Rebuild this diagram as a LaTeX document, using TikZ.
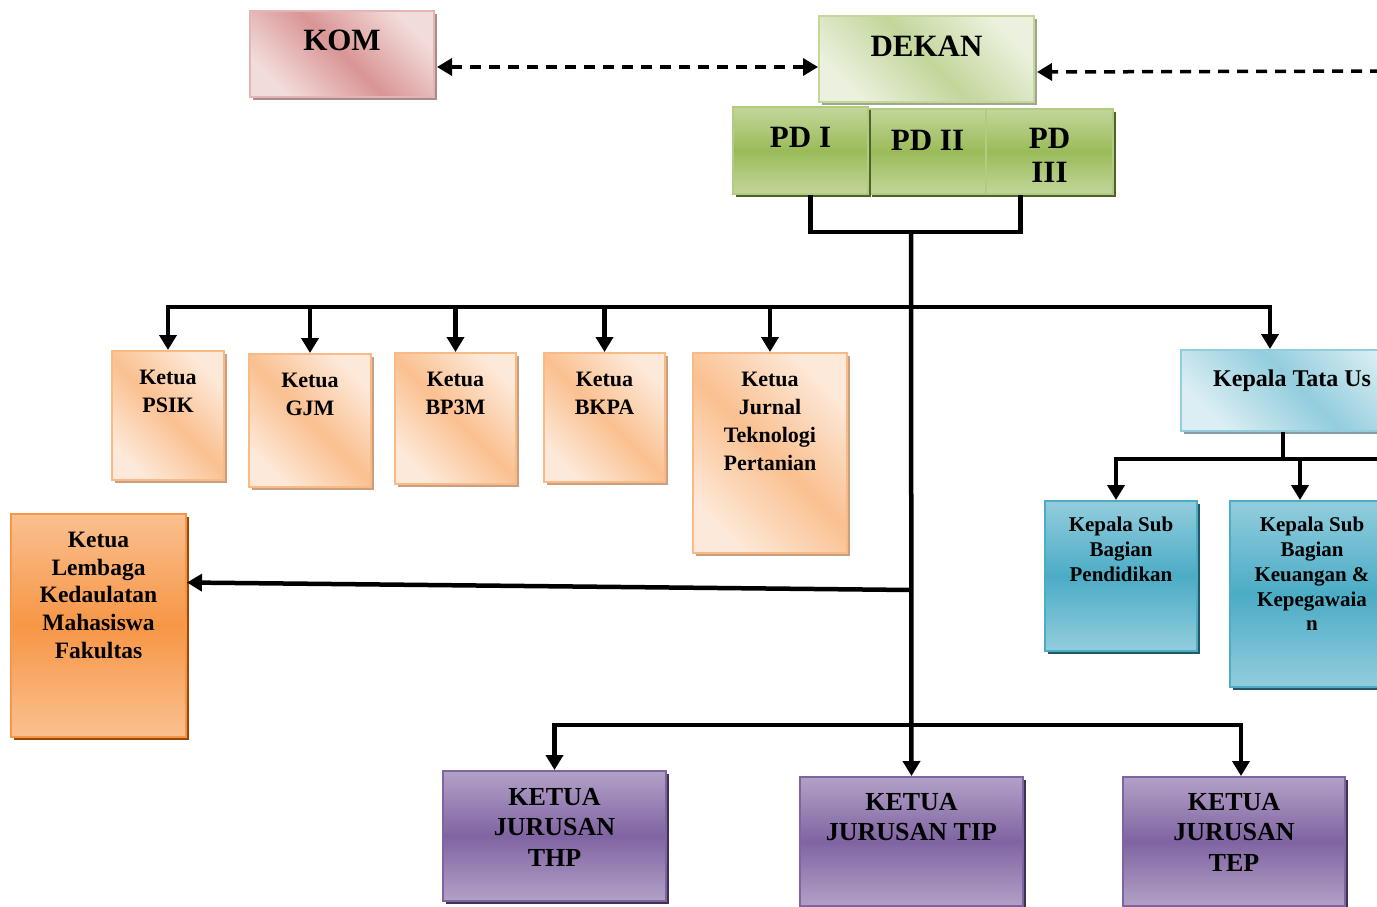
\documentclass[tikz,border=0pt]{standalone}
\usepackage{fontspec}
\setmainfont{Liberation Serif}
\usetikzlibrary{arrows.meta,positioning,shadows}

\definecolor{pinkD}{HTML}{D99594}
\definecolor{pinkL}{HTML}{F2DCDB}
\definecolor{oliveL}{HTML}{EBF1DE}
\definecolor{oliveM}{HTML}{C3D69B}
\definecolor{oliveD}{HTML}{9BBB59}
\definecolor{oliveS}{HTML}{4F6228}
\definecolor{peachL}{HTML}{FDE9D9}
\definecolor{peachM}{HTML}{FAC090}
\definecolor{peachD}{HTML}{F79646}
\definecolor{peachS}{HTML}{984807}
\definecolor{peachG}{HTML}{C8A080}
\definecolor{aquaL}{HTML}{DAEEF3}
\definecolor{aquaM}{HTML}{93CDDD}
\definecolor{aquaD}{HTML}{4BACC6}
\definecolor{aquaS}{HTML}{215968}
\definecolor{lilacM}{HTML}{B2A1C7}
\definecolor{lilacD}{HTML}{8064A2}
\definecolor{lilacS}{HTML}{3F3151}

\tikzset{
  unit/.style={anchor=north west, inner sep=0pt, line width=2pt},
  castshadow/.style={drop shadow={shadow xshift=3pt, shadow yshift=-3pt, fill=#1, opacity=1}},
  diag/.style 2 args={left color=#1, right color=#1, middle color=#2, shading angle=135},
  vert/.style 2 args={top color=#1, bottom color=#1, middle color=#2},
  kombox/.style={unit, draw=pinkD!70, diag={pinkL}{pinkD}, castshadow=pinkD!50!gray},
  dekanbox/.style={unit, draw=oliveM, diag={oliveL}{oliveM}, castshadow=oliveM!45!gray},
  pdbox/.style={unit, draw=oliveM!60!oliveD, vert={oliveM}{oliveD}, castshadow=oliveS},
  peachbox/.style={unit, draw=peachM!85!peachD, diag={peachL}{peachM}, castshadow=peachG},
  lkmbox/.style={unit, draw=peachD, vert={peachM}{peachD}, castshadow=peachS},
  tubox/.style={unit, draw=aquaM, diag={aquaL}{aquaM}, castshadow=aquaM!40!gray},
  subbox/.style={unit, draw=aquaD, vert={aquaM}{aquaD}, castshadow=aquaS},
  lilacbox/.style={unit, draw=lilacD, vert={lilacM}{lilacD}, castshadow=lilacS},
  lbl/.style={anchor=north, inner sep=0pt, align=center},
  headtxt/.style={font=\fontsize{31}{34}\selectfont\bfseries},
  ketuatxt/.style={font=\fontsize{22}{28}\selectfont\bfseries},
  lkmtxt/.style={font=\fontsize{23.5}{27.7}\selectfont\bfseries},
  subtxt/.style={font=\fontsize{21}{24.8}\selectfont\bfseries},
  jurtxt/.style={font=\fontsize{26}{30.5}\selectfont\bfseries},
  conn/.style={line width=4.5pt},
  arr/.style={line width=4.5pt, -{Triangle[width=17pt,length=15pt]}},
  linkdash/.style={line width=3.5pt, dash pattern=on 11pt off 8pt},
}

\begin{document}
\begin{tikzpicture}[x=1pt, y=-1pt]
\useasboundingbox (0,0) rectangle (1377,907);
\clip (0,0) rectangle (1377,907);
\path
(911,232) coordinate (jpd)
(911,307) coordinate (jk)
(911,590) coordinate (jl)
(913,725) coordinate (jj)
(1283,459) coordinate (jt)
(1400,459) coordinate (jtr)
(1400,71) coordinate (dr)
;
% pimpinan
\node[kombox, minimum width=184pt, minimum height=86pt] (kom) at (249,10) {};
\node[lbl, headtxt, below=20pt of kom.north] (komt) {KOM};
\node[dekanbox, minimum width=215pt, minimum height=86pt] (dekan) at (818,15) {};
\node[lbl, headtxt, below=21pt of dekan.north] (dekant) {DEKAN};
\node[pdbox, minimum width=117pt, minimum height=85pt] (pd2) at (868,108) {};
\node[pdbox, minimum width=127pt, minimum height=85pt] (pd3) at (985,108) {};
\node[pdbox, minimum width=135pt, minimum height=87pt] (pd1) at (732,106) {};
\node[lbl, headtxt, below=21pt of pd1.north] (pd1t) {PD I};
\node[lbl, headtxt, below=22pt of pd2.north] (pd2t) {PD II};
\node[lbl, headtxt, below=20pt of pd3.north] (pd3t) {PD\\III};
% ketua unit
\foreach \n/\x/\y/\w/\hh/\txt in {psik/111/350/112/129/{Ketua\\PSIK},
  gjm/248/353/122/133/{Ketua\\GJM}, bp/394/352/121/131/{Ketua\\BP3M},
  bkpa/543/352/121/129/{Ketua\\BKPA},
  jtp/692/352/154/200/{Ketua\\Jurnal\\Teknologi\\Pertanian}}{
  \node[peachbox, minimum width=\w pt, minimum height=\hh pt] (\n) at (\x,\y) {};
  \node[lbl, ketuatxt, below=20pt of \n.north] (\n t) {\txt};
}
\node[lkmbox, minimum width=175pt, minimum height=223pt] (lkm) at (10,513) {};
\node[lbl, lkmtxt, below=19pt of lkm.north] (lkmt) {Ketua\\Lembaga\\Kedaulatan\\Mahasiswa\\Fakultas};
% tata usaha
\node[tubox, minimum width=240pt, minimum height=81pt] (tu) at (1180,349) {};
\node[anchor=north west, inner sep=0pt, font=\fontsize{24}{28}\selectfont\bfseries] (tut) at ([xshift=33pt, yshift=-21pt]tu.north west) {Kepala Tata Us};
\node[subbox, minimum width=152pt, minimum height=150pt] (sp) at (1044,500) {};
\node[lbl, subtxt, below=17pt of sp.north] (spt) {Kepala Sub\\Bagian\\Pendidikan};
\node[subbox, minimum width=164pt, minimum height=186pt] (sk) at (1229,500) {};
\node[lbl, subtxt, below=17pt of sk.north] (skt) {Kepala Sub\\Bagian\\Keuangan \&\\Kepegawaia\\n};
% jurusan
\node[lilacbox, minimum width=223pt, minimum height=130pt] (thp) at (442,770) {};
\node[lbl, jurtxt, below=18pt of thp.north] (thpt) {KETUA\\JURUSAN\\THP};
\node[lilacbox, minimum width=223pt, minimum height=129pt] (tip) at (799,776) {};
\node[lbl, jurtxt, below=17pt of tip.north] (tipt) {KETUA\\JURUSAN TIP};
\node[lilacbox, minimum width=222pt, minimum height=129pt] (tep) at (1122,776) {};
\node[lbl, jurtxt, below=17pt of tep.north] (tept) {KETUA\\JURUSAN\\TEP};
% garis
\draw[linkdash, {Triangle[width=17pt,length=15pt]}-{Triangle[width=17pt,length=15pt]}]
  ([xshift=2pt, yshift=-13pt]kom.east) -- ([yshift=-8pt]dekan.west);
\draw[linkdash, -{Triangle[width=17pt,length=15pt]}] (dr) -- ([xshift=2pt, yshift=-13pt]dekan.east);
\draw[conn] ([xshift=10pt]pd1.south) |- (jpd) -| ([xshift=-29pt]pd3.south);
\draw[arr] (jpd) -- (tip.north);
\foreach \n in {psik,gjm,bp,bkpa,jtp} \draw[arr] (jk) -| (\n.north);
\draw[arr] (jk) -| ([xshift=90pt]tu.north west);
\draw[arr] (jl) -- ([yshift=43pt]lkm.east);
\draw[arr] (jj) -| (thp.north);
\draw[arr] (jj) -| ([xshift=7pt]tep.north);
\draw[conn] ([xshift=103pt]tu.south west) -- (jt) -- (jtr);
\draw[arr] (jt) -| ([xshift=-5pt]sp.north);
\draw[arr] (jt) -| ([xshift=71pt]sk.north west);
\end{tikzpicture}
\end{document}
